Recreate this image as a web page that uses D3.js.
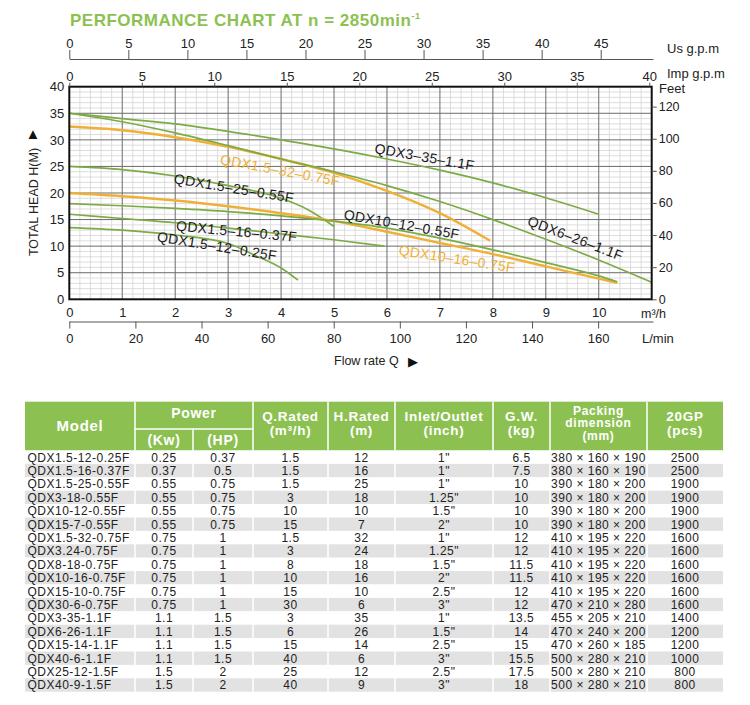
<!DOCTYPE html>
<html>
<head>
<meta charset="utf-8">
<script src="https://cdn.jsdelivr.net/npm/d3@7"></script>
<style>
  body { margin: 0; background: #fff; }
  svg { display: block; font-family: "Liberation Sans", Arial, Helvetica, sans-serif; }
  .axis text { font-size: 13px; fill: #222; }
  .axis path, .axis line { stroke: #555; }
</style>
</head>
<body>
<svg id="chart" width="750" height="705"></svg>
<script>
// performance curves, [flow m3/h, head m]
const qdx3_35_11 = [[0,35],[1,34.0],[2,33.0],[3,31.6],[4,30.0],[5,28.3],[6,26.4],[7,24.3],[8,21.9],[9,19.1],[10,16.0]];
const qdx6_26_11 = [[0,35],[1,33.4],[2,31.3],[3,28.9],[4,26.4],[5,24.0],[6,21.4],[7,18.4],[8,15.0],[9,11.3],[10,7.4],[11,3.2]];
const qdx15_32_075 = [[0,32.5],[1,31.8],[2,30.5],[3,28.7],[4,26.4],[5,23.8],[6,20.4],[7,16.2],[7.95,11.0]];
const qdx15_25_055 = [[0,25],[1,24.4],[2,23.2],[3,21.4],[4,19.0],[4.5,16.9],[5,13.7]];
const qdx10_16_075 = [[0,20],[1,19.4],[2,18.6],[3,17.5],[4,16.2],[5,14.7],[6,12.7],[7,10.6],[8,8.5],[9,6.2],[10,3.9],[10.35,3.1]];
const qdx10_12_055 = [[0,18],[1,17.6],[2,17.1],[3,16.5],[4,15.7],[5,14.7],[6,13.4],[7,11.5],[8,9.3],[9,6.9],[10,4.4],[10.35,3.3]];
const qdx15_16_037 = [[0,16],[1,15.2],[2,14.4],[3,13.4],[4,12.3],[5,11.2],[5.95,10.0]];
const qdx15_12_025 = [[0,13.5],[1,13.0],[2,12.1],[3,10.5],[3.5,8.3],[4,5.9],[4.32,3.6]];

const curves = [
  { name: 'QDX3-35-1.1F', values: qdx3_35_11, kind: 'green' },
  { name: 'QDX1.5-32-0.75F', values: qdx15_32_075, kind: 'orange' },
  { name: 'QDX6-26-1.1F', values: qdx6_26_11, kind: 'green' },
  { name: 'QDX1.5-25-0.55F', values: qdx15_25_055, kind: 'green' },
  { name: 'QDX10-16-0.75F', values: qdx10_16_075, kind: 'orange' },
  { name: 'QDX10-12-0.55F', values: qdx10_12_055, kind: 'green' },
  { name: 'QDX1.5-16-0.37F', values: qdx15_16_037, kind: 'green' },
  { name: 'QDX1.5-12-0.25F', values: qdx15_12_025, kind: 'green' },
];

// curve labels: anchor in data units (flow, head) and slope in degrees
const curveLabels = [
  { text: 'QDX3–35–1.1F', q: 6.71, h: 26.8, angle: 10, kind: 'dark' },
  { text: 'QDX1.5–32–0.75F', q: 3.98, h: 24.3, angle: 10.5, kind: 'orange' },
  { text: 'QDX1.5–25–0.55F', q: 3.11, h: 20.9, angle: 9.3, kind: 'dark' },
  { text: 'QDX10–12–0.55F', q: 6.28, h: 14.1, angle: 10, kind: 'dark' },
  { text: 'QDX10–16–0.75F', q: 7.32, h: 7.6, angle: 8.8, kind: 'orange' },
  { text: 'QDX6–26–1.1F', q: 9.56, h: 11.5, angle: 21, kind: 'dark' },
  { text: 'QDX1.5–16–0.37F', q: 3.16, h: 12.8, angle: 5.4, kind: 'dark' },
  { text: 'QDX1.5–12–0.25F', q: 2.79, h: 10.0, angle: 9.2, kind: 'dark' },
];

const headTicks = [0, 5, 10, 15, 20, 25, 30, 35, 40];
const feetTicks = [0, 20, 40, 60, 80, 100, 120];
const flowTicks = [0, 1, 2, 3, 4, 5, 6, 7, 8, 9, 10];
const lminTicks = [0, 20, 40, 60, 80, 100, 120, 140, 160];
const usTicks = [0, 5, 10, 15, 20, 25, 30, 35, 40, 45];
const impTicks = [0, 5, 10, 15, 20, 25, 30, 35, 40];

// table
const models = ['QDX1.5-12-0.25F','QDX1.5-16-0.37F','QDX1.5-25-0.55F','QDX3-18-0.55F','QDX10-12-0.55F','QDX15-7-0.55F','QDX1.5-32-0.75F','QDX3.24-0.75F','QDX8-18-0.75F','QDX10-16-0.75F','QDX15-10-0.75F','QDX30-6-0.75F','QDX3-35-1.1F','QDX6-26-1.1F','QDX15-14-1.1F','QDX40-6-1.1F','QDX25-12-1.5F','QDX40-9-1.5F'];
const powerKw = ['0.25','0.37','0.55','0.55','0.55','0.55','0.75','0.75','0.75','0.75','0.75','0.75','1.1','1.1','1.1','1.1','1.5','1.5'];
const powerHp = ['0.37','0.5','0.75','0.75','0.75','0.75','1','1','1','1','1','1','1.5','1.5','1.5','1.5','2','2'];
const qRated = ['1.5','1.5','1.5','3','10','15','1.5','3','8','10','15','30','3','6','15','40','25','40'];
const hRated = ['12','16','25','18','10','7','32','24','18','16','10','6','35','26','14','6','12','9'];
const inletOutlet = ['1"','1"','1"','1.25"','1.5"','2"','1"','1.25"','1.5"','2"','2.5"','3"','1"','1.5"','2.5"','3"','2.5"','3"'];
const grossWeight = ['6.5','7.5','10','10','10','10','12','12','11.5','11.5','12','12','13.5','14','15','15.5','17.5','18'];
const packing = ['380 × 160 × 190','380 × 160 × 190','390 × 180 × 200','390 × 180 × 200','390 × 180 × 200','390 × 180 × 200','410 × 195 × 220','410 × 195 × 220','410 × 195 × 220','410 × 195 × 220','410 × 195 × 220','470 × 210 × 280','455 × 205 × 210','470 × 240 × 200','470 × 260 × 185','500 × 280 × 210','500 × 280 × 210','500 × 280 × 210'];
const gp20 = ['2500','2500','1900','1900','1900','1900','1600','1600','1600','1600','1600','1600','1400','1200','1200','1000','800','800'];

const green = '#7cab45', orange = '#f0b035', lightGreen = '#8cc152';

const svg = d3.select('#chart');

// plot frame
const plotL = 69.3, plotR = 651.7, plotT = 86.7, plotB = 299.3;
const x = d3.scaleLinear().domain([0, 11]).range([plotL, plotR]);
const y = d3.scaleLinear().domain([0, 40]).range([plotB, plotT]);
const feet = d3.scaleLinear().domain([0, 132.4]).range([plotB, plotT]);
const lmin = d3.scaleLinear().domain([0, 176.6]).range([plotL, 653]);
const usgpm = d3.scaleLinear().domain([0, 49.43]).range([plotL, 653]);
const impgpm = d3.scaleLinear().domain([0, 40.17]).range([plotL, plotR]);

svg.append('text')
  .attr('x', 70).attr('y', 26)
  .style('font-size', '17px').style('font-weight', 'bold').style('letter-spacing', '0.5px').attr('fill', lightGreen)
  .text('PERFORMANCE CHART AT n = 2850min')
  .append('tspan').attr('dy', -7).style('font-size', '9px').text('-1');

// grid
const grid = svg.append('g');
grid.selectAll('line.vminor').data(d3.range(0, 55).map(i => i / 5).filter(v => v % 1 !== 0))
  .join('line').attr('class', 'vminor')
  .attr('x1', d => x(d)).attr('x2', d => x(d)).attr('y1', plotT).attr('y2', plotB)
  .attr('stroke', '#d4d4d4').attr('stroke-width', 0.8);
grid.selectAll('line.hminor').data(d3.range(1, 40).filter(v => v % 5 !== 0))
  .join('line').attr('class', 'hminor')
  .attr('x1', plotL).attr('x2', plotR).attr('y1', d => y(d)).attr('y2', d => y(d))
  .attr('stroke', '#d4d4d4').attr('stroke-width', 0.8);
grid.selectAll('line.vmajor').data(d3.range(1, 11))
  .join('line').attr('class', 'vmajor')
  .attr('x1', d => x(d)).attr('x2', d => x(d)).attr('y1', plotT).attr('y2', plotB)
  .attr('stroke', '#6b6b6b').attr('stroke-width', 1);
grid.selectAll('line.hmajor').data(headTicks.slice(1, -1))
  .join('line').attr('class', 'hmajor')
  .attr('x1', plotL).attr('x2', plotR).attr('y1', d => y(d)).attr('y2', d => y(d))
  .attr('stroke', '#6b6b6b').attr('stroke-width', 1);

// curves
const line = d3.line().x(d => x(d[0])).y(d => y(d[1])).curve(d3.curveMonotoneX);
svg.append('g').selectAll('path').data(curves).join('path')
  .attr('d', d => line(d.values))
  .attr('fill', 'none')
  .attr('stroke', d => d.kind === 'orange' ? orange : green)
  .attr('stroke-width', d => d.kind === 'orange' ? 2.4 : 1.7);

svg.append('rect').attr('x', plotL).attr('y', plotT).attr('width', plotR - plotL).attr('height', plotB - plotT)
  .attr('fill', 'none').attr('stroke', '#111').attr('stroke-width', 2);

svg.append('g').selectAll('text').data(curveLabels).join('text')
  .attr('transform', d => `translate(${x(d.q)},${y(d.h)}) rotate(${d.angle})`)
  .attr('text-anchor', 'middle').attr('dy', '0.35em')
  .style('font-size', '14px').style('letter-spacing', '0.3px')
  .attr('fill', d => d.kind === 'orange' ? orange : '#1a1a1a')
  .text(d => d.text);

// axes
const clean = g => g.call(s => s.selectAll('.domain').remove());

svg.append('g').attr('class', 'axis').attr('transform', `translate(${plotL},0)`)
  .call(d3.axisLeft(y).tickValues(headTicks).tickSize(0).tickPadding(5)).call(clean);

svg.append('g').attr('class', 'axis').attr('transform', `translate(${plotR},0)`)
  .call(d3.axisRight(feet).tickValues(feetTicks).tickSize(5).tickPadding(2)).call(clean)
  .call(g => g.selectAll('text').style('font-size', '12.5px'));

svg.append('g').attr('class', 'axis').attr('transform', `translate(0,${plotB})`)
  .call(d3.axisBottom(x).tickValues(flowTicks).tickSize(0).tickPadding(8)).call(clean);

svg.append('g').attr('class', 'axis').attr('transform', 'translate(0,321.5)')
  .call(d3.axisBottom(lmin).tickValues(lminTicks).tickSize(7).tickPadding(5).tickSizeOuter(0));

svg.append('g').attr('class', 'axis').attr('transform', 'translate(0,59)')
  .call(d3.axisTop(usgpm).tickValues(usTicks).tickSize(9).tickPadding(2).tickSizeOuter(0));

svg.append('g').attr('class', 'axis').attr('transform', `translate(0,${plotT})`)
  .call(d3.axisTop(impgpm).tickValues(impTicks).tickSize(4).tickPadding(1.5)).call(clean);

const unitText = (tx, ty, str, size) => svg.append('text').attr('x', tx).attr('y', ty)
  .attr('dy', '0.35em').style('font-size', (size || 13) + 'px').attr('fill', '#222').text(str);
unitText(667, 48, 'Us g.p.m');
unitText(667, 73, 'Imp g.p.m');
unitText(659, 88, 'Feet');
unitText(641, 314, 'm³/h', 12.5);
unitText(642, 338, 'L/min');
unitText(334, 361, 'Flow rate Q', 12.5);
svg.append('text').attr('x', 413).attr('y', 361).attr('dy', '0.35em').attr('text-anchor', 'middle')
  .style('font-size', '13px').attr('fill', '#111').text('▶');

svg.append('text')
  .attr('transform', 'translate(38,202) rotate(-90)')
  .attr('text-anchor', 'middle')
  .style('font-size', '12.5px').attr('fill', '#222')
  .text('TOTAL HEAD H(M)');
svg.append('text').attr('x', 33).attr('y', 134).attr('text-anchor', 'middle').attr('dy', '0.35em')
  .style('font-size', '15px').attr('fill', '#111').text('▲');

// table
const cols = [25, 135, 193, 253, 328, 395, 493, 550, 647, 723];
const headTop = 401.7, subTop = 429, headBottom = 450.5, rowH = 13.4;
const table = svg.append('g');

table.append('rect').attr('x', cols[0]).attr('y', headTop)
  .attr('width', cols[9] - cols[0]).attr('height', headBottom - headTop).attr('fill', lightGreen);

const rows = models.map((m, i) => [m, powerKw[i], powerHp[i], qRated[i], hRated[i], inletOutlet[i], grossWeight[i], packing[i], gp20[i]]);

table.selectAll('rect.row').data(rows).join('rect').attr('class', 'row')
  .attr('x', cols[0]).attr('y', (d, i) => headBottom + i * rowH)
  .attr('width', cols[9] - cols[0]).attr('height', rowH)
  .attr('fill', (d, i) => i % 2 ? '#e2e2e2' : '#fff');

table.selectAll('line.sep').data(cols.slice(1, -1)).join('line').attr('class', 'sep')
  .attr('x1', d => d).attr('x2', d => d)
  .attr('y1', (d, i) => i === 1 ? subTop : headTop).attr('y2', headBottom + rows.length * rowH)
  .attr('stroke', '#fff').attr('stroke-width', 1.5);
table.append('line').attr('x1', cols[1]).attr('x2', cols[3]).attr('y1', subTop).attr('y2', subTop)
  .attr('stroke', '#fff').attr('stroke-width', 1.5);

const headers = [
  { lines: ['Model'], x: (cols[0] + cols[1]) / 2, y: 426, size: 15 },
  { lines: ['Power'], x: (cols[1] + cols[3]) / 2, y: 413, size: 14 },
  { lines: ['(Kw)'], x: (cols[1] + cols[2]) / 2, y: 440, size: 14 },
  { lines: ['(HP)'], x: (cols[2] + cols[3]) / 2, y: 440, size: 14 },
  { lines: ['Q.Rated', '(m³/h)'], x: (cols[3] + cols[4]) / 2, y: 423.5, size: 13.5 },
  { lines: ['H.Rated', '(m)'], x: (cols[4] + cols[5]) / 2, y: 423.5, size: 13.5 },
  { lines: ['Inlet/Outlet', '(inch)'], x: (cols[5] + cols[6]) / 2, y: 423.5, size: 13.5 },
  { lines: ['G.W.', '(kg)'], x: (cols[6] + cols[7]) / 2, y: 423.5, size: 13.5 },
  { lines: ['Packing', 'dimension', '(mm)'], x: (cols[7] + cols[8]) / 2, y: 423, size: 12 },
  { lines: ['20GP', '(pcs)'], x: (cols[8] + cols[9]) / 2, y: 423.5, size: 13.5 },
];
table.selectAll('text.head').data(headers).join('text').attr('class', 'head')
  .attr('text-anchor', 'middle').attr('fill', '#fff')
  .style('font-size', d => d.size + 'px').style('font-weight', 'bold')
  .style('letter-spacing', '0.7px')
  .each(function (d) {
    const lh = d.lines.length > 2 ? 12.6 : 13.5;
    d3.select(this).selectAll('tspan').data(d.lines).join('tspan')
      .attr('x', d.x)
      .attr('y', (c, i) => d.y + (i - (d.lines.length - 1) / 2) * lh)
      .attr('dy', '0.35em')
      .text(c => c);
  });

const cellX = cols.slice(0, -1).map((c, i) => i === 0 ? c + 2.5 : (c + cols[i + 1]) / 2);
table.selectAll('g.rowtext').data(rows).join('g').attr('class', 'rowtext')
  .each(function (r, ri) {
    d3.select(this).selectAll('text').data(r).join('text')
      .attr('x', (c, ci) => cellX[ci])
      .attr('y', headBottom + ri * rowH + rowH / 2)
      .attr('dy', '0.36em')
      .attr('text-anchor', (c, ci) => ci === 0 ? 'start' : 'middle')
      .style('font-size', '12px').style('letter-spacing', '0.5px').attr('fill', '#222')
      .text(c => c);
  });
</script>
</body>
</html>
